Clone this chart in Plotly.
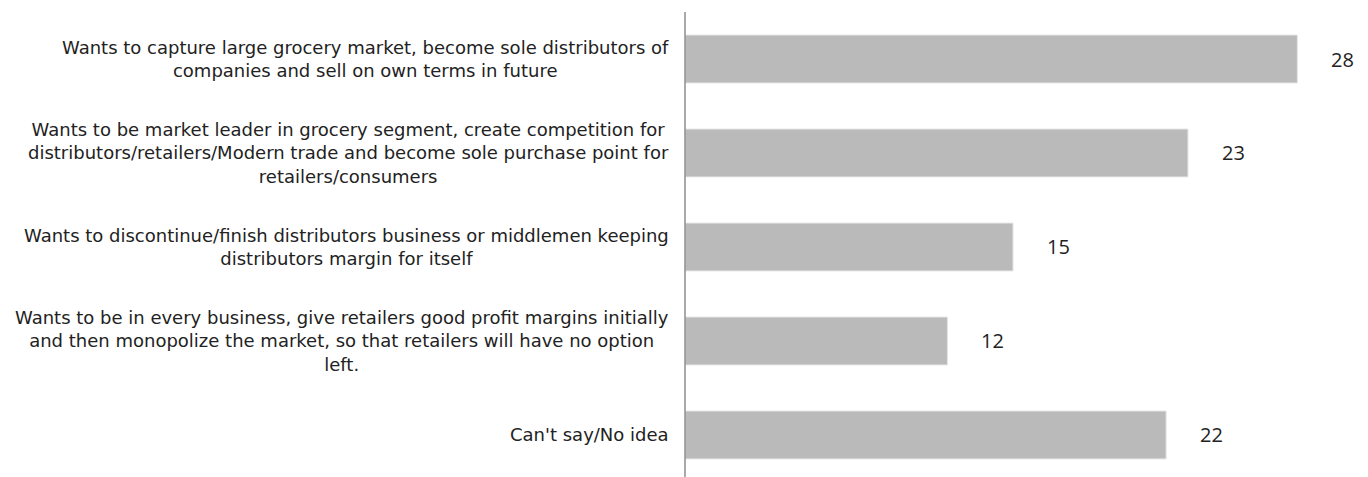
import plotly.graph_objects as go

categories = [
    "Wants to capture large grocery market, become sole distributors of<br>companies and sell on own terms in future",
    "Wants to be market leader in grocery segment, create competition for<br>distributors/retailers/Modern trade and become sole purchase point for<br>retailers/consumers",
    "Wants to discontinue/finish distributors business or middlemen keeping<br>distributors margin for itself",
    "Wants to be in every business, give retailers good profit margins initially<br>and then monopolize the market, so that retailers will have no option<br>left.",
    "Can't say/No idea",
]
values = [28, 23, 15, 12, 22]

LABEL_FONT = "DejaVu Sans"
VALUE_FONT = "Open Sans"
TEXT_COLOR = "#222222"
BAR_COLOR = "#BABABA"

fig = go.Figure(
    go.Bar(
        x=values,
        y=list(range(len(categories))),
        orientation="h",
        marker=dict(color=BAR_COLOR, line=dict(color="#E6E6E6", width=1)),
        width=0.51,
        hoverinfo="skip",
    )
)

annotations = []
for i, (cat, v) in enumerate(zip(categories, values)):
    # category label, centred block, right edge next to the axis
    annotations.append(dict(
        x=0, y=i, xref="paper", yref="y", text=cat, showarrow=False,
        xanchor="right", yanchor="middle", align="center", xshift=-14,
        font=dict(family=LABEL_FONT, size=18, color=TEXT_COLOR),
    ))
    # value label past the bar end
    annotations.append(dict(
        x=v, y=i, xref="x", yref="y", text=str(v), showarrow=False,
        xanchor="left", yanchor="middle", xshift=32,
        font=dict(family=VALUE_FONT, size=20, color=TEXT_COLOR),
    ))

fig.update_layout(
    width=1368, height=477,
    margin=dict(l=685, r=16, t=12, b=0),
    paper_bgcolor="white", plot_bgcolor="white",
    showlegend=False,
    xaxis=dict(range=[0, 30.5], visible=False, fixedrange=True),
    yaxis=dict(range=[4.447, -0.5], showticklabels=False, showgrid=False,
               zeroline=False, showline=False, ticks=""),
    shapes=[dict(type="line", xref="paper", yref="paper", x0=0, x1=0, y0=0, y1=1,
                 line=dict(color="#8C8C8C", width=1.5))],
    annotations=annotations,
)

fig.write_html("out.html")
